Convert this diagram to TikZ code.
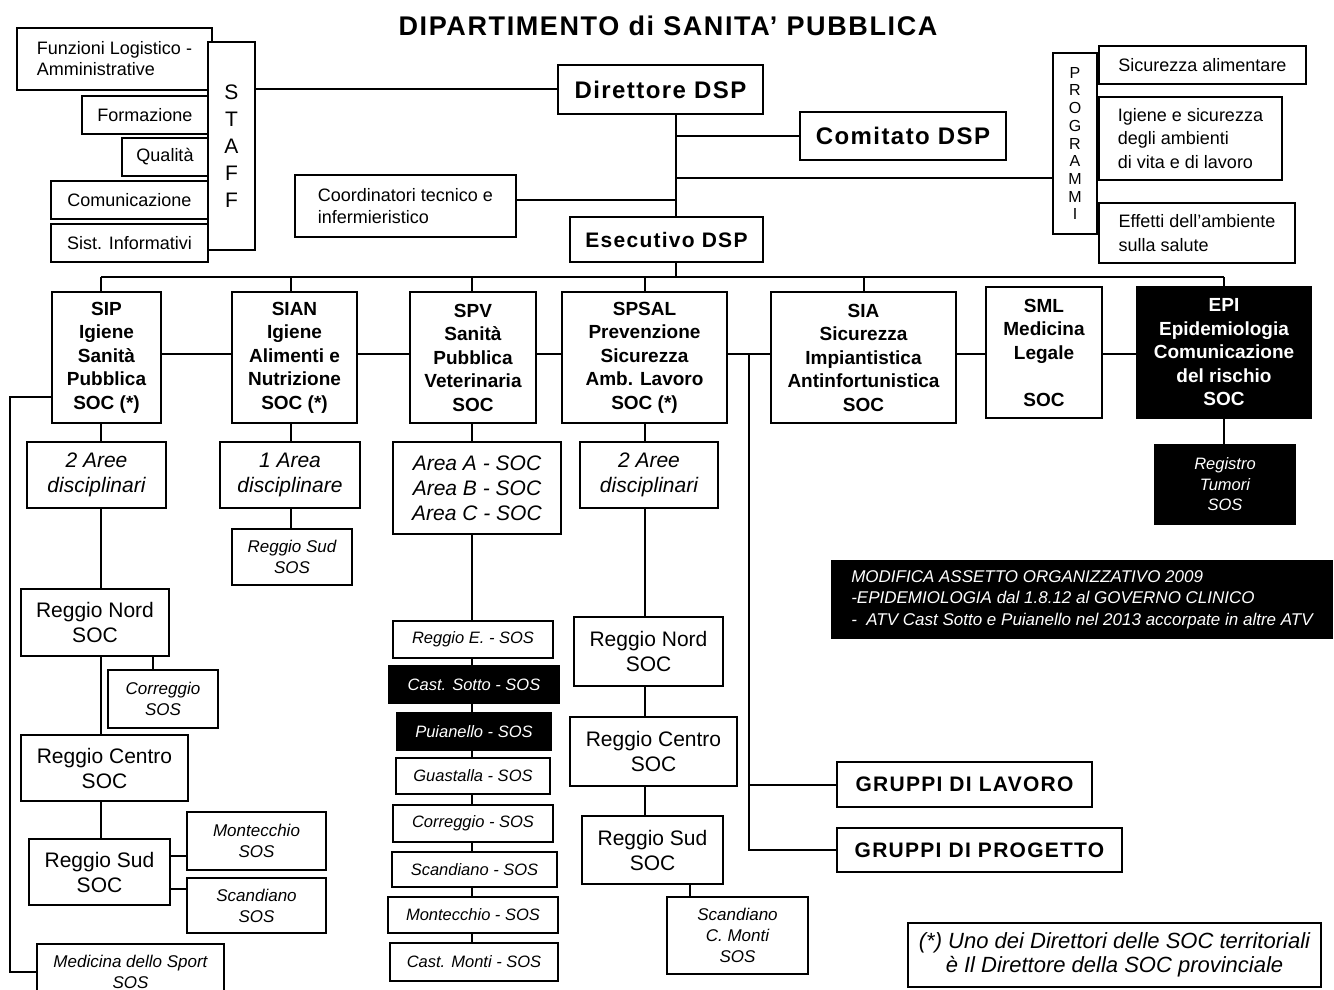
\documentclass[tikz,border=0pt]{standalone}
\usepackage{fontspec}
\setmainfont{Liberation Sans}
\newfontfamily\spaced{Liberation Sans}[LetterSpace=6]

\newcommand\fTitle{\spaced\bfseries\fontsize{27}{30}\selectfont}
\newcommand\fHead{\spaced\bfseries\fontsize{24}{28}\selectfont}
\newcommand\fHeadS{\spaced\bfseries\fontsize{21}{25}\selectfont}
\newcommand\fDept{\bfseries\fontsize{19}{23.5}\selectfont}
\newcommand\fSoc{\fontsize{21}{25}\selectfont}
\newcommand\fArea{\itshape\fontsize{21}{25}\selectfont}
\newcommand\fSos{\itshape\fontsize{17}{21}\selectfont}
\newcommand\fList{\itshape\fontsize{16.5}{20}\selectfont}
\newcommand\fStaff{\fontsize{18}{21}\selectfont}
\newcommand\fNote{\itshape\fontsize{17}{21.5}\selectfont}
\newcommand\fFoot{\itshape\fontsize{22}{24}\selectfont}

\tikzset{
  box/.style={draw, line width=2pt, fill=white, inner sep=0pt, align=center},
  dark/.style={box, fill=black, text=white},
  sz/.style 2 args={minimum width=#1pt, minimum height=#2pt},
  wire/.style={draw, line width=2pt},
}

\begin{document}
\begin{tikzpicture}[x=1pt, y=-1pt]
  \useasboundingbox (0,0) rectangle (1334,990);

  % guide coordinates
  \coordinate (spine)  at (676,0);
  \coordinate (bus)    at (0,277);
  \coordinate (hProg)  at (0,178);
  \coordinate (hCoord) at (0,200);
  \coordinate (hDep)   at (0,354);
  \coordinate (cSIP)   at (101,0);
  \coordinate (cSIAN)  at (291,0);
  \coordinate (cSPV)   at (472,0);
  \coordinate (cSPSAL) at (645,0);
  \coordinate (cCor)   at (153,0);
  \coordinate (cScm)   at (690,0);
  \coordinate (cGr)    at (749,0);
  \coordinate (hMon)   at (0,856);
  \coordinate (hSca)   at (0,889);
  \coordinate (lft)    at (10,397);

  \node[anchor=base, font=\fTitle] (title) at (668,36) {DIPARTIMENTO di SANITA’ PUBBLICA};

  % staff
  \node[box, sz={195}{62}, align=left, font=\fStaff] (fla)  at (114.5,59) {Funzioni Logistico -\\Amministrative};
  \node[box, sz={126}{38}, font=\fStaff] (form) at (145,115)   {Formazione};
  \node[box, sz={86}{38},  font=\fStaff] (qual) at (165,157)   {Qualità};
  \node[box, sz={157}{38}, font=\fStaff] (comu) at (129.5,200) {Comunicazione};
  \node[box, sz={157}{38}, font=\fStaff] (sist) at (129.5,243) {Sist. Informativi};
  \node[box, sz={47}{208}, font=\fontsize{21}{27}\selectfont] (staff) at (231.5,146) {S\\T\\A\\F\\F};

  % direzione
  \node[box, sz={205}{49}, font=\fHead]  (dir)   at (660.5,89.5) {Direttore DSP};
  \node[box, sz={206}{48}, font=\fHead]  (com)   at (903,136)    {Comitato DSP};
  \node[box, sz={221}{62}, align=left, font=\fontsize{18}{22}\selectfont] (coord) at (405.5,206) {Coordinatori tecnico e\\infermieristico};
  \node[box, sz={193}{45}, font=\fHeadS] (esec)  at (666.5,239.5) {Esecutivo DSP};

  % programmi
  \node[box, sz={44}{181}, font=\fontsize{16}{17.7}\selectfont] (progr) at (1075,143.5) {P\\R\\O\\G\\R\\A\\M\\M\\I};
  \node[box, sz={207}{38}, font=\fontsize{18}{22}\selectfont] (pr1) at (1202.5,65) {Sicurezza alimentare};
  \node[box, sz={183}{83}, align=left, font=\fontsize{18}{23.5}\selectfont] (pr2) at (1190.5,138.5) {Igiene e sicurezza\\degli ambienti\\di vita e di lavoro};
  \node[box, sz={196}{60}, align=left, font=\fontsize{18}{24}\selectfont] (pr3) at (1197,233) {Effetti dell’ambiente\\sulla salute};

  % servizi
  \node[box, sz={109}{131}, font=\fDept] (sip)   at (106.5,357.5) {SIP\\Igiene\\Sanità\\Pubblica\\SOC (*)};
  \node[box, sz={125}{131}, font=\fDept] (sian)  at (294.5,357.5) {SIAN\\Igiene\\Alimenti e\\Nutrizione\\SOC (*)};
  \node[box, sz={126}{131}, font=\fDept] (spv)   at (473,357.5)   {SPV\\Sanità\\Pubblica\\Veterinaria\\SOC};
  \node[box, sz={165}{131}, font=\fDept] (spsal) at (644.5,357.5) {SPSAL\\Prevenzione\\Sicurezza\\Amb. Lavoro\\SOC (*)};
  \node[box, sz={185}{131}, font=\fDept] (sia)   at (863.5,357.5) {SIA\\Sicurezza\\Impiantistica\\Antinfortunistica\\SOC};
  \node[box, sz={116}{131}, font=\fDept] (sml)   at (1044,352.5)  {SML\\Medicina\\Legale\\[23.5pt]SOC};
  \node[dark, sz={174}{131}, font=\fDept] (epi)  at (1224,352.5)  {EPI\\Epidemiologia\\Comunicazione\\del rischio\\SOC};
  \node[dark, sz={140}{79}, font=\fontsize{16.5}{20.5}\selectfont\itshape] (reg) at (1225,484.5) {Registro\\Tumori\\SOS};

  % SIP
  \node[box, sz={139}{66}, font=\fArea] (sipA)  at (96.5,475)  {2 Aree\\disciplinari};
  \node[box, sz={148}{67}, font=\fSoc]  (sipN)  at (95,622.5)  {Reggio Nord\\SOC};
  \node[box, sz={110}{58}, font=\fSos]  (sipC)  at (163,699)   {Correggio\\SOS};
  \node[box, sz={167}{66}, font=\fSoc]  (sipRC) at (104.5,768) {Reggio Centro\\SOC};
  \node[box, sz={141}{66}, font=\fSoc]  (sipRS) at (99.5,872)  {Reggio Sud\\SOC};
  \node[box, sz={139}{58}, font=\fSos]  (sipM)  at (256.5,841) {Montecchio\\SOS};
  \node[box, sz={139}{55}, font=\fSos]  (sipS)  at (256.5,905.5) {Scandiano\\SOS};
  \node[box, sz={187}{56}, font=\fSos]  (sport) at (130.5,972) {Medicina dello Sport\\SOS};

  % SIAN
  \node[box, sz={140}{66}, font=\fArea] (sianA) at (290,475) {1 Area\\disciplinare};
  \node[box, sz={120}{56}, font=\fSos]  (sianS) at (292,557) {Reggio Sud\\SOS};

  % SPV
  \node[box, sz={168}{92}, font=\fArea] (spvA) at (477,488) {Area A - SOC\\Area B - SOC\\Area C - SOC};
  \node[box,  sz={160}{37}, font=\fList] (spv1) at (473,639.5) {Reggio E. - SOS};
  \node[dark, sz={170}{37}, font=\fList] (spv2) at (474,684.5) {Cast. Sotto - SOS};
  \node[dark, sz={154}{37}, font=\fList] (spv3) at (474,731.5) {Puianello - SOS};
  \node[box,  sz={154}{36}, font=\fList] (spv4) at (473,776)   {Guastalla - SOS};
  \node[box,  sz={160}{37}, font=\fList] (spv5) at (473,823.5) {Correggio - SOS};
  \node[box,  sz={165}{35}, font=\fList] (spv6) at (474.5,869.5) {Scandiano - SOS};
  \node[box,  sz={170}{36}, font=\fList] (spv7) at (473,915)   {Montecchio - SOS};
  \node[box,  sz={168}{38}, font=\fList] (spv8) at (474,962)   {Cast. Monti - SOS};

  % SPSAL
  \node[box, sz={138}{66}, font=\fArea] (spsA) at (649,475)    {2 Aree\\disciplinari};
  \node[box, sz={149}{69}, font=\fSoc]  (spsN) at (648.5,651.5) {Reggio Nord\\SOC};
  \node[box, sz={167}{69}, font=\fSoc]  (spsC) at (653.5,751.5) {Reggio Centro\\SOC};
  \node[box, sz={141}{68}, font=\fSoc]  (spsS) at (652.5,850)  {Reggio Sud\\SOC};
  \node[box, sz={141}{77}, font=\fSos]  (spsM) at (737.5,935.5) {Scandiano\\C. Monti\\SOS};

  % gruppi e note
  \node[box, sz={255}{45}, font=\fHeadS] (glav)  at (964.5,784.5) {GRUPPI DI LAVORO};
  \node[box, sz={285}{44}, font=\fHeadS] (gprog) at (979.5,850)   {GRUPPI DI PROGETTO};
  \node[dark, draw=none, sz={502}{79}, align=left, font=\fNote] (note) at (1082,599.5)
    {MODIFICA ASSETTO ORGANIZZATIVO 2009\\-EPIDEMIOLOGIA dal 1.8.12 al GOVERNO CLINICO\\-~ ATV Cast Sotto e Puianello nel 2013 accorpate in altre ATV};
  \node[box, sz={413}{64}, font=\fFoot] (foot) at (1114.5,955)
    {(*) Uno dei Direttori delle SOC territoriali\\è Il Direttore della SOC provinciale};

  % connectors, top
  \draw[wire] (staff.east |- dir.west) -- (dir.west);
  \draw[wire] (dir.south -| spine) -- (esec.north -| spine);
  \draw[wire] (spine |- com.west) -- (com.west);
  \draw[wire] (spine |- hProg) -- (progr.west |- hProg);
  \draw[wire] (coord.east |- hCoord) -- (spine |- hCoord);
  \draw[wire] (esec.south -| spine) -- (spine |- bus);

  % bus and drops
  \draw[wire] (cSIP |- bus) -- (epi.north |- bus);
  \draw[wire] (cSIP |- bus) -- (sip.north -| cSIP);
  \draw[wire] (cSIAN |- bus) -- (sian.north -| cSIAN);
  \draw[wire] (cSPV |- bus) -- (spv.north -| cSPV);
  \draw[wire] (cSPSAL |- bus) -- (spsal.north -| cSPSAL);
  \draw[wire] (sia.north |- bus) -- (sia.north);
  \draw[wire] (epi.north |- bus) -- (epi.north);
  \foreach \a/\b in {sip/sian, sian/spv, spv/spsal, spsal/sia, sia/sml, sml/epi}
    \draw[wire] (\a.east |- hDep) -- (\b.west |- hDep);

  % SIP column
  \foreach \a/\b in {sip/sipA, sipA/sipN, sipN/sipRC, sipRC/sipRS}
    \draw[wire] (\a.south -| cSIP) -- (\b.north -| cSIP);
  \draw[wire] (sipN.south -| cCor) -- (sipC.north -| cCor);
  \draw[wire] (sipRS.east |- hMon) -- (sipM.west |- hMon);
  \draw[wire] (sipRS.east |- hSca) -- (sipS.west |- hSca);
  \draw[wire] (sip.west |- lft) -- (lft) |- (sport.west);

  % SIAN column
  \draw[wire] (sian.south -| cSIAN) -- (sianA.north -| cSIAN);
  \draw[wire] (sianA.south -| cSIAN) -- (sianS.north -| cSIAN);

  % SPV column
  \foreach \a/\b in {spv/spvA, spvA/spv1, spv1/spv2, spv2/spv3, spv3/spv4, spv4/spv5, spv5/spv6, spv6/spv7, spv7/spv8}
    \draw[wire] (\a.south -| cSPV) -- (\b.north -| cSPV);

  % SPSAL column
  \foreach \a/\b in {spsal/spsA, spsA/spsN, spsN/spsC, spsC/spsS}
    \draw[wire] (\a.south -| cSPSAL) -- (\b.north -| cSPSAL);
  \draw[wire] (spsS.south -| cScm) -- (spsM.north -| cScm);

  % gruppi
  \draw[wire] (cGr |- hDep) -- (cGr |- gprog.west) -- (gprog.west);
  \draw[wire] (cGr |- glav.west) -- (glav.west);

  % EPI
  \draw[wire] (epi.south) -- (epi.south |- reg.north);
\end{tikzpicture}
\end{document}
